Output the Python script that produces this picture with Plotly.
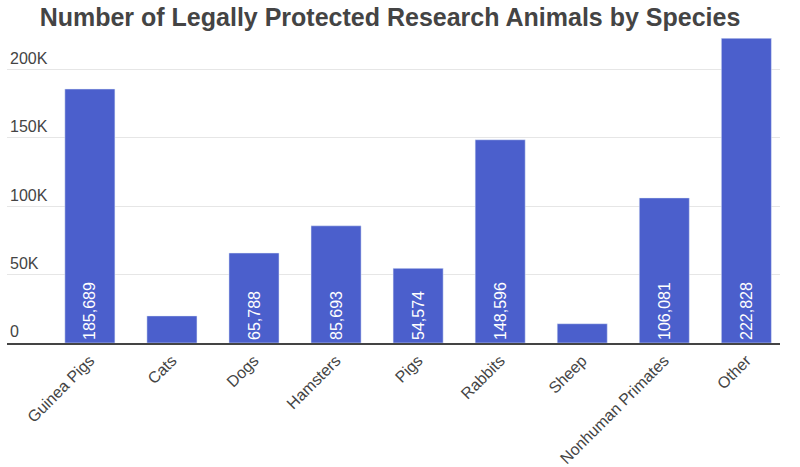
import plotly.graph_objects as go

species = ["Guinea Pigs", "Cats", "Dogs", "Hamsters", "Pigs", "Rabbits", "Sheep",
           "Nonhuman Primates", "Other"]
counts = [185689, 19800, 65788, 85693, 54574, 148596, 14100, 106081, 222828]
y_ticks = [0, 50000, 100000, 150000, 200000]
y_tick_labels = ["0", "50K", "100K", "150K", "200K"]

fig = go.Figure(go.Bar(
    x=species, y=counts,
    marker_color="#4B5FCC",
    texttemplate="%{y:,}",
    textposition="inside",
    insidetextanchor="start",
    textangle=-90,
    textfont=dict(color="white", size=16, family="Liberation Sans, Arial, sans-serif"),
    width=0.61,
    hoverinfo="x+y",
))

fig.update_layout(
    width=800, height=467,
    margin=dict(l=7, r=20, t=38, b=124, autoexpand=False),
    paper_bgcolor="white", plot_bgcolor="white",
    font=dict(family="Liberation Sans, Arial, sans-serif", color="#444", size=15),
    title=dict(text="<b>Number of Legally Protected Research Animals by Species</b>",
               x=0.4875, xanchor="center", y=0.962, yanchor="middle",
               font=dict(size=25, color="#444")),
    uniformtext=dict(minsize=16, mode="hide"),
    showlegend=False,
)
fig.update_xaxes(
    range=[-1.01, 8.41], tickangle=-45, showline=True, linecolor="#444", linewidth=2,
    tickfont=dict(size=16, color="#444"), showgrid=False, ticks="", automargin=False,
)
fig.update_yaxes(
    range=[0, 223000], tickvals=y_ticks, ticktext=y_tick_labels,
    ticklabelposition="inside top", showgrid=True, gridcolor="#e6e6e6", gridwidth=1,
    zeroline=False, tickfont=dict(size=16, color="#444"), automargin=False,
)

fig.write_html("out.html")
